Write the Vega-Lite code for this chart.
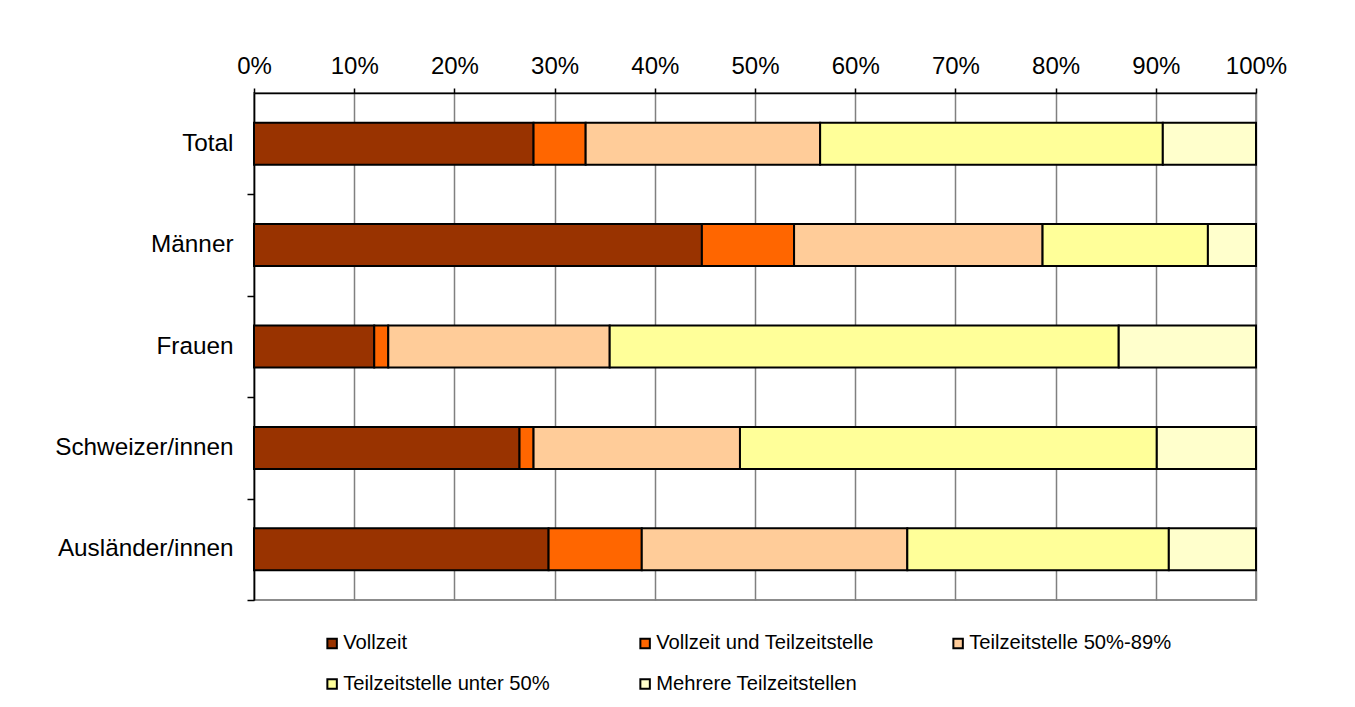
{
  "$schema": "https://vega.github.io/schema/vega-lite/v6.json",
  "width": 1002,
  "height": 507,
  "autosize": {"type": "none"},
  "padding": {"left": 254, "top": 93, "right": 99, "bottom": 107},
  "background": "white",
  "config": {
    "font": "Liberation Sans",
    "view": {"stroke": "#8c8c8c", "strokeWidth": 2}
  },
  "data": {
    "values": [
      {"group": "Total", "typ": "Vollzeit", "o": 1, "wert": 27.9},
      {"group": "Total", "typ": "Vollzeit und Teilzeitstelle", "o": 2, "wert": 5.2},
      {"group": "Total", "typ": "Teilzeitstelle 50%-89%", "o": 3, "wert": 23.4},
      {"group": "Total", "typ": "Teilzeitstelle unter 50%", "o": 4, "wert": 34.2},
      {"group": "Total", "typ": "Mehrere Teilzeitstellen", "o": 5, "wert": 9.3},
      {"group": "Männer", "typ": "Vollzeit", "o": 1, "wert": 44.7},
      {"group": "Männer", "typ": "Vollzeit und Teilzeitstelle", "o": 2, "wert": 9.2},
      {"group": "Männer", "typ": "Teilzeitstelle 50%-89%", "o": 3, "wert": 24.8},
      {"group": "Männer", "typ": "Teilzeitstelle unter 50%", "o": 4, "wert": 16.5},
      {"group": "Männer", "typ": "Mehrere Teilzeitstellen", "o": 5, "wert": 4.8},
      {"group": "Frauen", "typ": "Vollzeit", "o": 1, "wert": 12.0},
      {"group": "Frauen", "typ": "Vollzeit und Teilzeitstelle", "o": 2, "wert": 1.4},
      {"group": "Frauen", "typ": "Teilzeitstelle 50%-89%", "o": 3, "wert": 22.1},
      {"group": "Frauen", "typ": "Teilzeitstelle unter 50%", "o": 4, "wert": 50.8},
      {"group": "Frauen", "typ": "Mehrere Teilzeitstellen", "o": 5, "wert": 13.7},
      {"group": "Schweizer/innen", "typ": "Vollzeit", "o": 1, "wert": 26.5},
      {"group": "Schweizer/innen", "typ": "Vollzeit und Teilzeitstelle", "o": 2, "wert": 1.4},
      {"group": "Schweizer/innen", "typ": "Teilzeitstelle 50%-89%", "o": 3, "wert": 20.6},
      {"group": "Schweizer/innen", "typ": "Teilzeitstelle unter 50%", "o": 4, "wert": 41.6},
      {"group": "Schweizer/innen", "typ": "Mehrere Teilzeitstellen", "o": 5, "wert": 9.9},
      {"group": "Ausländer/innen", "typ": "Vollzeit", "o": 1, "wert": 29.4},
      {"group": "Ausländer/innen", "typ": "Vollzeit und Teilzeitstelle", "o": 2, "wert": 9.3},
      {"group": "Ausländer/innen", "typ": "Teilzeitstelle 50%-89%", "o": 3, "wert": 26.5},
      {"group": "Ausländer/innen", "typ": "Teilzeitstelle unter 50%", "o": 4, "wert": 26.1},
      {"group": "Ausländer/innen", "typ": "Mehrere Teilzeitstellen", "o": 5, "wert": 8.7}
    ]
  },
  "resolve": {"axis": {"y": "independent"}},
  "layer": [
    {
      "mark": {"type": "bar", "stroke": "black", "strokeWidth": 2},
      "encoding": {
        "y": {
          "field": "group",
          "type": "nominal",
          "sort": ["Total", "Männer", "Frauen", "Schweizer/innen", "Ausländer/innen"],
          "scale": {"paddingInner": 0.586, "paddingOuter": 0.293},
          "axis": {
            "title": null,
            "orient": "left",
            "ticks": false,
            "domainColor": "black",
            "domainWidth": 1.5,
            "labelFontSize": 24.3,
            "labelColor": "black",
            "labelPadding": 21
          }
        },
        "x": {
          "field": "wert",
          "type": "quantitative",
          "stack": "normalize",
          "scale": {"domain": [0, 1]},
          "axis": {
            "title": null,
            "orient": "top",
            "format": ".0%",
            "values": [0, 0.1, 0.2, 0.3, 0.4, 0.5, 0.6, 0.7, 0.8, 0.9, 1],
            "labelFontSize": 24,
            "labelColor": "black",
            "labelPadding": 10,
            "labelFlush": false,
            "domainColor": "black",
            "domainWidth": 1.5,
            "tickColor": "black",
            "tickSize": 5,
            "tickWidth": 1.5,
            "grid": true,
            "gridColor": "#808080",
            "gridWidth": 1.5
          }
        },
        "order": {"field": "o", "type": "quantitative"},
        "color": {
          "field": "typ",
          "type": "nominal",
          "scale": {
            "domain": ["Vollzeit", "Vollzeit und Teilzeitstelle", "Teilzeitstelle 50%-89%", "Teilzeitstelle unter 50%", "Mehrere Teilzeitstellen"],
            "range": ["#993300", "#FF6600", "#FFCC99", "#FFFF99", "#FFFFCC"]
          },
          "legend": {
            "title": null,
            "orient": "none",
            "legendX": 68,
            "legendY": 540,
            "direction": "horizontal",
            "columns": 3,
            "gridAlign": "all",
            "columnPadding": 74,
            "rowPadding": 20,
            "padding": 0,
            "symbolType": "square",
            "symbolSize": 90,
            "symbolStrokeColor": "black",
            "symbolStrokeWidth": 2,
            "symbolOpacity": 1,
            "labelFontSize": 20.2,
            "labelColor": "black",
            "labelOffset": 1,
            "labelLimit": 400
          }
        }
      }
    },
    {
      "mark": {"type": "point", "opacity": 0},
      "encoding": {
        "y": {
          "field": "group",
          "type": "nominal",
          "sort": ["Total", "Männer", "Frauen", "Schweizer/innen", "Ausländer/innen"],
          "axis": {
            "title": null,
            "orient": "left",
            "labels": false,
            "domain": false,
            "ticks": true,
            "tickColor": "black",
            "tickWidth": 1.5,
            "tickSize": 7,
            "tickOffset": 50.7
          }
        }
      }
    }
  ]
}
